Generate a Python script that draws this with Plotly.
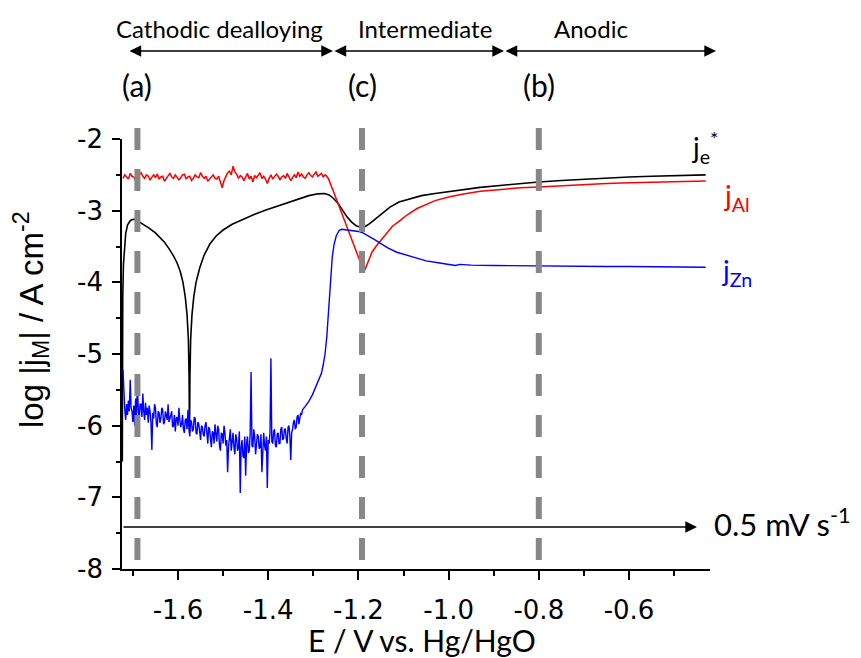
import plotly.graph_objects as go

# ---------------- data ----------------
# j_e* (black)
je_E = [-1.7235, -1.7232, -1.7225, -1.721, -1.719, -1.716, -1.712, -1.706, -1.700, -1.694,
        -1.688, -1.680, -1.665, -1.650, -1.640, -1.630, -1.620, -1.610, -1.602, -1.595,
        -1.589, -1.584, -1.580, -1.577, -1.5755, -1.5745, -1.5735, -1.572, -1.569, -1.565,
        -1.560, -1.552, -1.542, -1.529, -1.515, -1.500, -1.480, -1.456, -1.430, -1.405,
        -1.380, -1.355, -1.330, -1.310, -1.290, -1.275, -1.265, -1.255, -1.245, -1.235,
        -1.225, -1.215, -1.205, -1.196, -1.185, -1.175, -1.160, -1.145, -1.130, -1.110,
        -1.085, -1.060, -1.030, -1.000, -0.960, -0.930, -0.880, -0.840, -0.800, -0.750,
        -0.700, -0.660, -0.600, -0.550, -0.500, -0.430]
je_log = [-6.5, -5.0, -4.2, -3.75, -3.5, -3.32, -3.2, -3.14, -3.12, -3.125,
          -3.15, -3.18, -3.24, -3.31, -3.37, -3.44, -3.53, -3.63, -3.73, -3.85,
          -4.0, -4.2, -4.45, -4.8, -5.3, -6.1, -5.3, -4.8, -4.45, -4.2,
          -4.0, -3.8, -3.62, -3.46, -3.35, -3.27, -3.19, -3.12, -3.05, -2.99,
          -2.94, -2.89, -2.84, -2.79, -2.765, -2.76, -2.78, -2.83, -2.90, -3.0,
          -3.09, -3.16, -3.21, -3.23, -3.22, -3.18, -3.10, -3.02, -2.95, -2.88,
          -2.83, -2.79, -2.76, -2.735, -2.70, -2.675, -2.645, -2.62, -2.60, -2.58,
          -2.56, -2.545, -2.53, -2.52, -2.51, -2.50]

# j_Al (red)
al_E = [-1.722, -1.718, -1.714, -1.710, -1.706, -1.702, -1.698, -1.694, -1.690, -1.686,
        -1.682, -1.678, -1.674, -1.670, -1.666, -1.662, -1.658, -1.654, -1.650, -1.646,
        -1.642, -1.638, -1.634, -1.630, -1.626, -1.622, -1.618, -1.614, -1.610, -1.606,
        -1.602, -1.598, -1.594, -1.590, -1.586, -1.582, -1.578, -1.574, -1.570, -1.566,
        -1.562, -1.558, -1.554, -1.550, -1.546, -1.542, -1.538, -1.534, -1.530, -1.526,
        -1.522, -1.518, -1.514, -1.510, -1.506, -1.502, -1.498, -1.494, -1.490, -1.486,
        -1.482, -1.478, -1.474, -1.470, -1.466, -1.462, -1.458, -1.454, -1.450, -1.446,
        -1.442, -1.438, -1.434, -1.430, -1.426, -1.422, -1.418, -1.414, -1.410, -1.406,
        -1.402, -1.398, -1.394, -1.390, -1.386, -1.382, -1.378, -1.374, -1.370, -1.366,
        -1.362, -1.358, -1.354, -1.350, -1.346, -1.342, -1.338, -1.334, -1.330, -1.326,
        -1.322, -1.318, -1.314, -1.310, -1.306, -1.302, -1.298, -1.294, -1.290, -1.286,
        -1.282, -1.278, -1.274, -1.270, -1.266,
        -1.250, -1.240, -1.230, -1.220, -1.210, -1.200, -1.192, -1.186, -1.178, -1.170,
        -1.160, -1.150, -1.140, -1.125, -1.110, -1.090, -1.070, -1.050, -1.030, -1.000,
        -0.970, -0.930, -0.880, -0.840, -0.800, -0.750, -0.700, -0.650, -0.600, -0.550,
        -0.500, -0.430]
al_log = [-2.55, -2.50, -2.53, -2.56, -2.48, -2.52, -2.53, -2.58, -2.54, -2.51,
          -2.47, -2.52, -2.55, -2.50, -2.52, -2.57, -2.53, -2.50, -2.54, -2.49,
          -2.56, -2.53, -2.52, -2.59, -2.55, -2.51, -2.48, -2.53, -2.55, -2.50,
          -2.53, -2.57, -2.54, -2.50, -2.49, -2.56, -2.53, -2.52, -2.58, -2.55,
          -2.50, -2.53, -2.54, -2.47, -2.52, -2.55, -2.52, -2.59, -2.56, -2.53,
          -2.50, -2.55, -2.56, -2.52, -2.60, -2.68, -2.58, -2.52, -2.47, -2.45,
          -2.50, -2.38, -2.46, -2.49, -2.55, -2.51, -2.53, -2.58, -2.53, -2.48,
          -2.56, -2.52, -2.60, -2.51, -2.54, -2.50, -2.47, -2.55, -2.52, -2.56,
          -2.62, -2.55, -2.50, -2.56, -2.53, -2.49, -2.52, -2.57, -2.53, -2.51,
          -2.55, -2.48, -2.53, -2.58, -2.54, -2.50, -2.54, -2.46, -2.52, -2.49,
          -2.53, -2.55, -2.50, -2.47, -2.51, -2.53, -2.49, -2.46, -2.52, -2.50,
          -2.48, -2.53, -2.50, -2.52, -2.56,
          -2.82, -2.99, -3.16, -3.33, -3.50, -3.67, -3.78, -3.83, -3.70, -3.58,
          -3.49, -3.41, -3.33, -3.22, -3.15, -3.05, -2.97, -2.91, -2.86, -2.81,
          -2.77, -2.73, -2.70, -2.68, -2.67, -2.65, -2.635, -2.62, -2.61, -2.60,
          -2.595, -2.585]

# j_Zn (blue)
zn_E = [-1.722, -1.720, -1.718, -1.716, -1.714, -1.712, -1.710, -1.708, -1.706, -1.704,
        -1.702, -1.700, -1.698, -1.696, -1.694, -1.692, -1.690, -1.688, -1.686, -1.684,
        -1.682, -1.680, -1.678, -1.676, -1.674, -1.672, -1.670, -1.668, -1.666, -1.664,
        -1.662, -1.660, -1.658, -1.656, -1.654, -1.652, -1.650, -1.648, -1.646, -1.644,
        -1.642, -1.640, -1.638, -1.636, -1.634, -1.632, -1.630, -1.628, -1.626, -1.624,
        -1.622, -1.620, -1.618, -1.616, -1.614, -1.612, -1.610, -1.608, -1.606, -1.604,
        -1.602, -1.600, -1.598, -1.596, -1.594, -1.592, -1.590, -1.588, -1.586, -1.584,
        -1.582, -1.580, -1.578, -1.576, -1.574, -1.572, -1.570, -1.568, -1.566, -1.564,
        -1.562, -1.560, -1.558, -1.556, -1.554, -1.552, -1.550, -1.548, -1.546, -1.544,
        -1.542, -1.540, -1.538, -1.536, -1.534, -1.532, -1.530, -1.528, -1.526, -1.524,
        -1.522, -1.520, -1.518, -1.516, -1.514, -1.512, -1.510, -1.508, -1.506, -1.504,
        -1.502, -1.500, -1.498, -1.496, -1.494, -1.492, -1.490, -1.488, -1.486, -1.484,
        -1.482, -1.480, -1.478, -1.476, -1.474, -1.472, -1.470, -1.468, -1.466, -1.464,
        -1.462, -1.460, -1.458, -1.456, -1.454, -1.452, -1.450, -1.448, -1.446, -1.444,
        -1.442, -1.440, -1.438, -1.436, -1.434, -1.432, -1.430, -1.428, -1.426, -1.424,
        -1.422, -1.420, -1.418, -1.416, -1.414, -1.412, -1.410, -1.408, -1.406, -1.404,
        -1.402, -1.400, -1.398, -1.396, -1.394, -1.392, -1.390, -1.388, -1.386, -1.384,
        -1.382, -1.380, -1.378, -1.376, -1.374, -1.372, -1.370, -1.368, -1.366, -1.364,
        -1.362, -1.360, -1.358, -1.356, -1.354, -1.352, -1.350, -1.348, -1.346, -1.344,
        -1.342, -1.340, -1.338, -1.336, -1.334, -1.332, -1.330, -1.328, -1.326, -1.324,
        -1.318, -1.310, -1.302, -1.295, -1.288, -1.282, -1.278, -1.274, -1.270,
        -1.267, -1.264, -1.261, -1.258, -1.254, -1.249, -1.243, -1.238, -1.225, -1.212,
        -1.200, -1.190, -1.178, -1.165, -1.150, -1.135, -1.115, -1.095, -1.075, -1.050,
        -1.020, -1.000, -0.985, -0.975, -0.950, -0.900, -0.850, -0.800, -0.750, -0.700,
        -0.650, -0.600, -0.550, -0.500, -0.430]
zn_log = [-5.22, -5.60, -5.78, -5.92, -5.70, -5.85, -5.65, -5.80, -5.36, -5.75,
          -5.80, -5.95, -5.72, -6.00, -5.62, -5.85, -5.45, -5.78, -5.90, -5.70,
          -5.70, -5.88, -5.55, -5.80, -5.92, -5.68, -5.85, -5.75, -5.96, -5.72,
          -5.80, -5.95, -6.34, -5.82, -5.90, -5.70, -5.75, -5.98, -6.02, -5.80,
          -5.82, -5.96, -5.90, -5.75, -5.78, -5.98, -5.95, -5.80, -5.85, -5.92,
          -5.70, -5.95, -5.90, -5.82, -5.80, -6.02, -6.00, -5.85, -6.08, -5.90,
          -5.88, -6.00, -5.75, -5.92, -6.02, -5.98, -5.85, -6.05, -6.10, -5.92,
          -5.90, -6.05, -5.78, -6.00, -6.15, -5.92, -5.95, -6.08, -6.05, -5.88,
          -5.90, -6.10, -6.12, -5.95, -5.98, -6.08, -6.20, -6.00, -6.02, -6.12,
          -6.15, -6.00, -5.95, -6.10, -6.25, -6.02, -6.05, -6.18, -6.30, -6.08,
          -6.10, -6.25, -5.98, -6.12, -6.22, -6.00, -6.05, -6.28, -6.35, -6.10,
          -6.12, -6.25, -6.00, -6.10, -6.28, -6.20, -6.65, -6.30, -6.15, -6.05,
          -6.35, -6.15, -6.10, -6.30, -6.40, -6.12, -6.18, -6.35, -6.30, -6.08,
          -6.94, -6.30, -6.20, -6.42, -6.45, -6.15, -6.70, -6.25, -6.15, -6.38,
          -6.35, -6.10, -5.25, -6.28, -6.30, -6.05, -6.15, -6.40, -6.22, -6.12,
          -6.15, -6.32, -6.30, -6.12, -6.65, -6.25, -6.10, -6.28, -6.35, -6.15,
          -6.87, -6.20, -6.25, -6.10, -5.06, -6.22, -6.25, -6.08, -6.05, -6.28,
          -6.30, -6.12, -6.10, -6.25, -6.25, -6.05, -6.02, -6.20, -6.18, -6.05,
          -6.05, -6.18, -6.25, -6.02, -6.00, -6.15, -6.48, -6.10, -6.05, -5.95,
          -5.92, -6.05, -6.02, -5.88, -5.85, -5.98, -5.90, -5.82, -5.85, -5.78,
          -5.73, -5.66, -5.57, -5.47, -5.36, -5.27, -5.15, -5.00, -4.75,
          -4.45, -4.20, -3.90, -3.65, -3.47, -3.35, -3.28, -3.26, -3.27, -3.28,
          -3.29, -3.31, -3.35, -3.40, -3.46, -3.52, -3.58, -3.62, -3.66, -3.70,
          -3.73, -3.745, -3.765, -3.75, -3.76, -3.765, -3.77, -3.77, -3.775, -3.775,
          -3.78, -3.78, -3.785, -3.785, -3.79]

x_tick_vals = [-1.6, -1.4, -1.2, -1.0, -0.8, -0.6]
x_tick_text = ["-1.6", "-1.4", "-1.2", "-1.0", "-0.8", "-0.6"]
x_minor_vals = [-1.7, -1.5, -1.3, -1.1, -0.9, -0.7, -0.5]
y_tick_vals = [-8, -7, -6, -5, -4, -3, -2]
y_tick_text = ["-8", "-7", "-6", "-5", "-4", "-3", "-2"]
y_minor_vals = [-7.5, -6.5, -5.5, -4.5, -3.5, -2.5]

marker_E = [-1.69, -1.192, -0.8]
marker_labels = ["(a)", "(c)", "(b)"]
region_names = ["Cathodic dealloying", "Intermediate", "Anodic"]
region_text_E = [-1.509, -1.0524, -0.6843]

sweep_start_E = -1.7242
sweep_end_E = -0.4492
sweep_level = -7.414

X_RANGE = [-1.7242, -0.4204]
Y_RANGE = [-8, -2]

# region arrow ends in plot-fraction units (left, boundaries, right)
region_bounds_paper = [0.0102, 0.3588, 0.6497, 1.0102]
PLOT_W = 588

CAL = "Lato, 'Open Sans', sans-serif"
ARIAL = "'Liberation Sans', Arial, sans-serif"
TICKF = "'DejaVu Sans', sans-serif"

fig = go.Figure()
fig.add_trace(go.Scatter(x=je_E, y=je_log, mode="lines", line=dict(color="black", width=1.6),
                         name="j_e*", hoverinfo="skip"))
fig.add_trace(go.Scatter(x=al_E, y=al_log, mode="lines", line=dict(color="#FF0000", width=1.5),
                         name="j_Al", hoverinfo="skip"))
fig.add_trace(go.Scatter(x=zn_E, y=zn_log, mode="lines", line=dict(color="#0000FF", width=1.4),
                         name="j_Zn", hoverinfo="skip"))

shapes = []
for e in marker_E:
    shapes.append(dict(type="line", xref="x", yref="paper", x0=e, x1=e, y0=1.0256, y1=0.0209,
                       line=dict(color="#878787", width=6, dash="22px,19px"), layer="above"))

annotations = []
# region arrows (double-headed)
for i in range(3):
    head = region_bounds_paper[i + 1]
    tail = region_bounds_paper[i]
    annotations.append(dict(x=head, y=1.2047, xref="paper", yref="paper",
                            ax=(tail - head) * PLOT_W, ay=0, axref="pixel", ayref="pixel",
                            text="", showarrow=True,
                            arrowhead=2, startarrowhead=2, arrowside="end+start", arrowsize=1.8,
                            startarrowsize=1.8, arrowwidth=1.3, arrowcolor="black"))
    annotations.append(dict(x=region_text_E[i], y=1.258, xref="x", yref="paper", text=region_names[i],
                            showarrow=False, font=dict(family=CAL, size=24, color="black"),
                            xanchor="center", yanchor="middle"))
for e, lab in zip(marker_E, marker_labels):
    annotations.append(dict(x=e, y=1.1256, xref="x", yref="paper", text=lab, showarrow=False,
                            font=dict(family=CAL, size=30, color="black"),
                            xanchor="center", yanchor="middle"))

# sweep arrow
annotations.append(dict(x=sweep_end_E, y=sweep_level, ax=sweep_start_E, ay=sweep_level,
                        xref="x", yref="y", axref="x", ayref="y", text="", showarrow=True,
                        arrowhead=2, arrowsize=1.8, arrowwidth=1.3, arrowcolor="black"))
annotations.append(dict(x=1.0034, y=0.107, xref="paper", yref="paper",
                        text="0.5 mV s<sup>-1</sup>", showarrow=False,
                        font=dict(family=CAL, size=31, color="black"),
                        xanchor="left", yanchor="middle"))

# curve labels
annotations.append(dict(x=0.9915, y=0.981, xref="paper", yref="paper",
                        text="j<sub>e</sub><sup>*</sup>", showarrow=False,
                        font=dict(family=CAL, size=28, color="black"), xanchor="center", yanchor="middle"))
annotations.append(dict(x=1.046, y=0.865, xref="paper", yref="paper",
                        text="j<sub>Al</sub>", showarrow=False,
                        font=dict(family=CAL, size=28, color="#FF0000"), xanchor="center", yanchor="middle"))
annotations.append(dict(x=1.046, y=0.691, xref="paper", yref="paper",
                        text="j<sub>Zn</sub>", showarrow=False,
                        font=dict(family=CAL, size=28, color="#0000FF"), xanchor="center", yanchor="middle"))

# axis titles
annotations.append(dict(x=0.510, y=-0.166, xref="paper", yref="paper",
                        text="E / V vs. Hg/HgO", showarrow=False,
                        font=dict(family=CAL, size=30, color="black"), xanchor="center", yanchor="middle"))
annotations.append(dict(x=-0.155, y=0.581, xref="paper", yref="paper",
                        text="log |j<sub>M</sub>| / A cm<sup>-2</sup>", showarrow=False, textangle=-90,
                        font=dict(family=ARIAL, size=33, color="black"), xanchor="center", yanchor="middle"))

# the page body adds an 8 px offset, so the figure is 8 px smaller and margins shifted
fig.update_layout(
    width=853, height=650,
    margin=dict(l=114, r=151, t=131, b=89),
    paper_bgcolor="white", plot_bgcolor="white",
    showlegend=False,
    shapes=shapes, annotations=annotations,
    xaxis=dict(range=X_RANGE, showgrid=False, zeroline=False, showline=True, linecolor="black",
               linewidth=1.5, ticks="outside", ticklen=9, tickwidth=1.5, tickcolor="black",
               tickmode="array", tickvals=x_tick_vals, ticktext=x_tick_text,
               tickfont=dict(family=TICKF, size=26, color="black"), ticklabelstandoff=8,
               minor=dict(tickmode="array", tickvals=x_minor_vals, ticks="outside", ticklen=5,
                          tickwidth=1.5, tickcolor="black", showgrid=False)),
    yaxis=dict(range=Y_RANGE, showgrid=False, zeroline=False, showline=True, linecolor="black",
               linewidth=1.5, ticks="outside", ticklen=8, tickwidth=1.5, tickcolor="black",
               tickmode="array", tickvals=y_tick_vals, ticktext=y_tick_text,
               tickfont=dict(family=TICKF, size=26, color="black"), ticklabelstandoff=4,
               minor=dict(tickmode="array", tickvals=y_minor_vals, ticks="outside", ticklen=4,
                          tickwidth=1.5, tickcolor="black", showgrid=False)),
)

fig.write_html("out.html")
